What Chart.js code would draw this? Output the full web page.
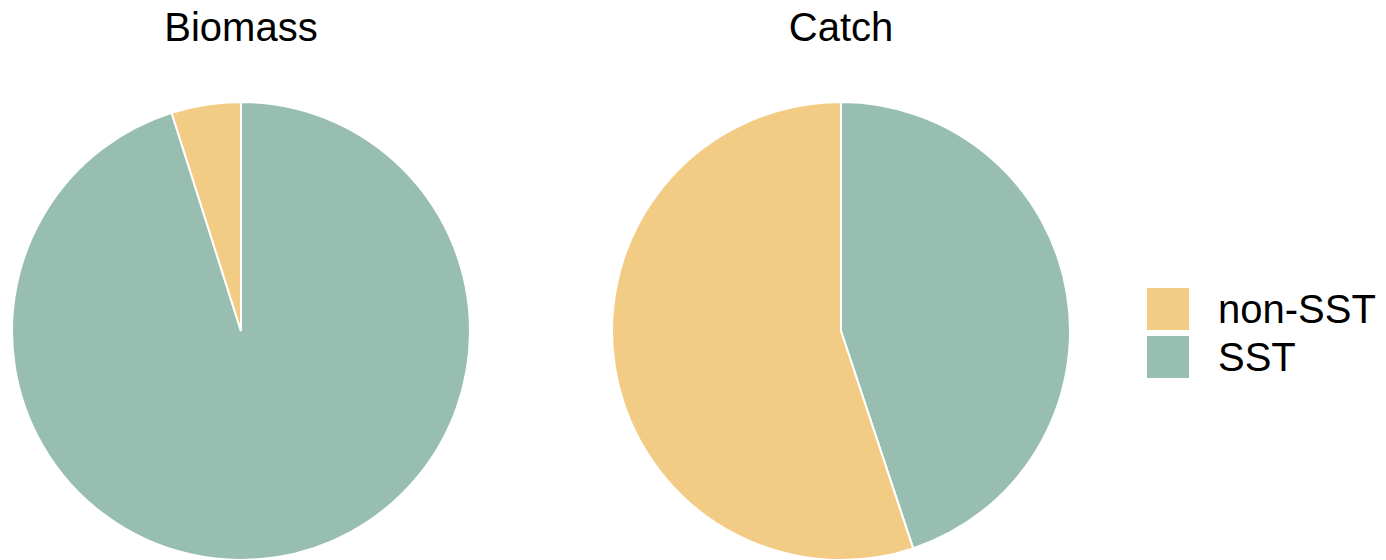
<!DOCTYPE html>
<html>
<head>
<meta charset="utf-8">
<script src="https://cdn.jsdelivr.net/npm/chart.js@4/dist/chart.umd.min.js"></script>
<style>
  html, body { margin: 0; padding: 0; background: #fff; }
  body { width: 1386px; height: 560px; position: relative; overflow: hidden; font-family: "Liberation Sans", Arial, sans-serif; }
  .title { position: absolute; top: 7px; width: 460px; text-align: center; font-size: 40px; line-height: 40px; color: #000; }
  .pie { position: absolute; top: 101px; width: 460px; height: 460px; }
  #legend { position: absolute; left: 1147px; top: 288px; }
  .item { display: flex; align-items: center; height: 42px; margin-bottom: 6px; }
  .key { width: 42px; height: 42px; margin-right: 29px; }
  .item span { font-size: 40px; line-height: 42px; color: #000; }
</style>
</head>
<body>
<div class="title" style="left:11px">Biomass</div>
<div class="title" style="left:611px">Catch</div>
<div class="pie" style="left:11px"><canvas id="biomass"></canvas></div>
<div class="pie" style="left:611px"><canvas id="catch"></canvas></div>
<div id="legend"></div>
<script>
// slice order runs clockwise from 12 o'clock
const groups = ['SST', 'non-SST'];
const colours = ['#98beb2', '#f2cc84'];
const biomassShare = [95.1, 4.9];
const catchShare = [44.9, 55.1];

function drawPie(id, values) {
    new Chart(document.getElementById(id), {
        type: 'pie',
        data: {
            labels: groups,
            datasets: [{
                data: values,
                backgroundColor: colours,
                borderColor: '#ffffff',
                borderWidth: 2
            }]
        },
        options: {
            responsive: true,
            maintainAspectRatio: false,
            animation: false,
            layout: { padding: 0 },
            plugins: {
                legend: { display: false },
                tooltip: { enabled: false }
            }
        }
    });
}

drawPie('biomass', biomassShare);
drawPie('catch', catchShare);

// legend lists non-SST first
const legend = document.getElementById('legend');
[1, 0].forEach(i => {
    const row = document.createElement('div');
    row.className = 'item';
    const key = document.createElement('div');
    key.className = 'key';
    key.style.background = colours[i];
    const label = document.createElement('span');
    label.textContent = groups[i];
    row.appendChild(key);
    row.appendChild(label);
    legend.appendChild(row);
});
</script>
</body>
</html>
